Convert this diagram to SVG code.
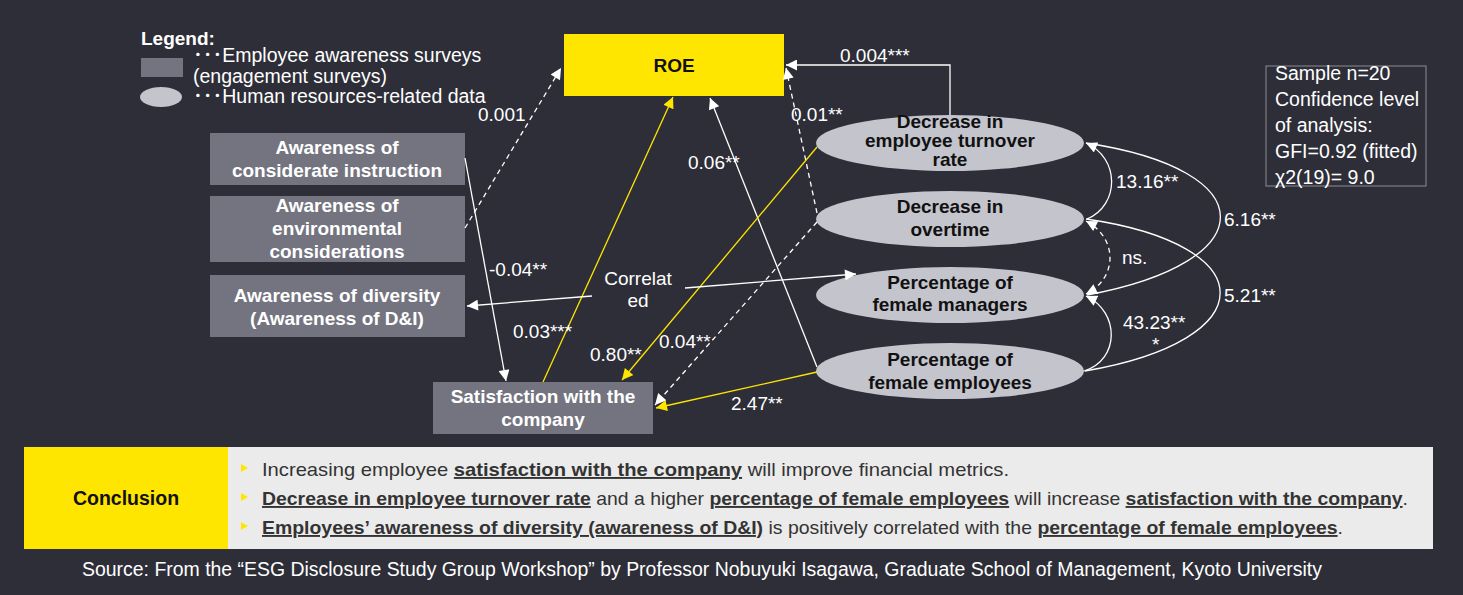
<svg xmlns="http://www.w3.org/2000/svg" width="1463" height="595" viewBox="0 0 1463 595">
<style>
text{font-family:"Liberation Sans",Arial,"Noto Sans CJK JP",sans-serif;}
.bx{fill:#747480;}
.el{fill:#c4c4cd;}
.wb{fill:#ffffff;font-weight:bold;font-size:19px;text-anchor:middle;}
.kb{fill:#111111;font-weight:bold;font-size:19px;text-anchor:middle;}
.lb{fill:#ffffff;font-size:19px;}
.ln{fill:none;stroke:#ffffff;stroke-width:1.3;}
.ds{fill:none;stroke:#ffffff;stroke-width:1.3;stroke-dasharray:5 4;}
.yl{fill:none;stroke:#ffe600;stroke-width:1.3;}
.ct{fill:#333333;font-size:19px;}
.u{font-weight:bold;text-decoration:underline;}
</style>
<defs>
<marker id="aw" viewBox="0 0 10 10" refX="10" refY="5" markerWidth="12" markerHeight="11" markerUnits="userSpaceOnUse" orient="auto-start-reverse"><path d="M0,0 L10,5 L0,10 z" fill="#ffffff"/></marker>
<marker id="ay" viewBox="0 0 10 10" refX="10" refY="5" markerWidth="12" markerHeight="11" markerUnits="userSpaceOnUse" orient="auto-start-reverse"><path d="M0,0 L10,5 L0,10 z" fill="#ffe600"/></marker>
</defs>
<rect x="0" y="0" width="1463" height="595" fill="#2e2e38"/>

<g id="legend">
<text x="141" y="45" style="fill:#fff;font-weight:bold;font-size:19px">Legend:</text>
<rect x="141" y="58" width="42" height="19" class="bx"/>
<ellipse cx="161" cy="97" rx="21" ry="10" class="el"/>
<text x="193" y="62" class="lb" style="font-size:19.5px">･･･Employee awareness surveys</text>
<text x="193" y="83" class="lb" style="font-size:19.5px">(engagement surveys)</text>
<text x="193" y="103" class="lb" style="font-size:19.5px">･･･Human resources-related data</text>
</g>

<g id="roe">
<rect x="564" y="34" width="220" height="62" fill="#ffe600"/>
<text x="674" y="72" class="kb">ROE</text>
</g>

<g id="considerate">
<rect x="210" y="133" width="255" height="52" class="bx"/>
<text x="337" y="154" class="wb">Awareness of</text>
<text x="337" y="177" class="wb">considerate instruction</text>
</g>
<g id="environmental">
<rect x="210" y="196" width="255" height="66" class="bx"/>
<text x="337" y="212" class="wb">Awareness of</text>
<text x="337" y="235" class="wb">environmental</text>
<text x="337" y="258" class="wb">considerations</text>
</g>
<g id="diversity">
<rect x="210" y="275" width="255" height="62" class="bx"/>
<text x="337" y="302" class="wb">Awareness of diversity</text>
<text x="337" y="325" class="wb">(Awareness of D&amp;I)</text>
</g>
<g id="satisfaction">
<rect x="433" y="382" width="220" height="52" class="bx"/>
<text x="543" y="403" class="wb">Satisfaction with the</text>
<text x="543" y="426" class="wb">company</text>
</g>

<g id="turnover">
<ellipse cx="950" cy="143" rx="134" ry="28" class="el"/>
<text x="950" y="128" class="kb">Decrease in</text>
<text x="950" y="147" class="kb">employee turnover</text>
<text x="950" y="166" class="kb">rate</text>
</g>
<g id="overtime">
<ellipse cx="950" cy="219" rx="134" ry="28" class="el"/>
<text x="950" y="213" class="kb">Decrease in</text>
<text x="950" y="236" class="kb">overtime</text>
</g>
<g id="managers">
<ellipse cx="950" cy="295" rx="134" ry="28" class="el"/>
<text x="950" y="289" class="kb">Percentage of</text>
<text x="950" y="311" class="kb">female managers</text>
</g>
<g id="employees">
<ellipse cx="950" cy="371" rx="134" ry="28" class="el"/>
<text x="950" y="366" class="kb">Percentage of</text>
<text x="950" y="389" class="kb">female employees</text>
</g>

<g id="stats">
<rect x="1266" y="66" width="160" height="120" fill="none" stroke="#8c8c94" stroke-width="1"/>
<text x="1275" y="80" class="lb" style="font-size:19.5px">Sample n=20</text>
<text x="1275" y="106" class="lb" style="font-size:19.5px">Confidence level</text>
<text x="1275" y="132" class="lb" style="font-size:19.5px">of analysis:</text>
<text x="1275" y="158" class="lb" style="font-size:19.5px">GFI=0.92 (fitted)</text>
<text x="1275" y="184" class="lb" style="font-size:19.5px">χ2(19)= 9.0</text>
</g>

<g id="connectors">
<path d="M950,115 V65 H786" class="ln" marker-end="url(#aw)"/>
<path d="M817,213 L786,68" class="ds" marker-end="url(#aw)"/>
<path d="M817,367 L710,98" class="ln" marker-end="url(#aw)"/>
<path d="M465,228 L561,68" class="ds" marker-end="url(#aw)"/>
<path d="M465,158 L506,381" class="ln" marker-end="url(#aw)"/>
<path d="M543,382 L673,97" class="yl" marker-end="url(#ay)"/>
<path d="M817,147 L622,380" class="yl" marker-end="url(#ay)"/>
<path d="M817,222 L655,405" class="ds" marker-end="url(#aw)"/>
<path d="M817,372 L656,408" class="yl" marker-end="url(#ay)"/>
<path d="M592,296 L467,306" class="ln" marker-end="url(#aw)"/>
<path d="M685,288 L856,274" class="ln" marker-end="url(#aw)"/>
<path d="M1087,219 C1120,205 1120,158 1086,143" class="ln" marker-end="url(#aw)"/>
<path d="M1087,295 C1265,262 1265,170 1086,143" class="ln"/>
<path d="M1085,371 C1265,340 1265,245 1086,219" class="ln"/>
<path d="M1086,221 C1118,238 1118,278 1086,294" class="ds" marker-start="url(#aw)" marker-end="url(#aw)"/>
<path d="M1084,371 C1120,360 1120,312 1086,296" class="ln" marker-end="url(#aw)"/>
<text x="840" y="62" class="lb">0.004***</text>
<text x="791" y="121" class="lb">0.01**</text>
<text x="688" y="169" class="lb">0.06**</text>
<text x="478" y="121" class="lb">0.001</text>
<text x="489" y="276" class="lb">-0.04**</text>
<text x="513" y="338" class="lb">0.03***</text>
<text x="590" y="361" class="lb">0.80**</text>
<text x="659" y="348" class="lb">0.04**</text>
<text x="731" y="410" class="lb">2.47**</text>
<text x="638" y="285" class="lb" text-anchor="middle">Correlat</text>
<text x="638" y="307" class="lb" text-anchor="middle">ed</text>
<text x="1116" y="188" class="lb">13.16**</text>
<text x="1224" y="226" class="lb">6.16**</text>
<text x="1122" y="264" class="lb">ns.</text>
<text x="1224" y="302" class="lb">5.21**</text>
<text x="1123" y="329" class="lb">43.23**</text>
<text x="1152" y="351" class="lb">*</text>
</g>

<g id="conclusion">
<rect x="24" y="447" width="204" height="102" fill="#ffe600"/>
<rect x="228" y="447" width="1205" height="102" fill="#ebebeb"/>
<text x="126" y="505" style="fill:#111;font-weight:bold;font-size:19.5px;text-anchor:middle">Conclusion</text>
<polygon points="241,464 248,468 241,472" fill="#ffe600"/>
<polygon points="241,493 248,497 241,501" fill="#ffe600"/>
<polygon points="241,522 248,526 241,530" fill="#ffe600"/>
<text x="262" y="476" class="ct" textLength="747" lengthAdjust="spacingAndGlyphs">Increasing employee <tspan class="u">satisfaction with the company</tspan> will improve financial metrics.</text>
<text x="262" y="505" class="ct" textLength="1146" lengthAdjust="spacingAndGlyphs"><tspan class="u">Decrease in employee turnover rate</tspan> and a higher <tspan class="u">percentage of female employees</tspan> will increase <tspan class="u">satisfaction with the company</tspan>.</text>
<text x="262" y="534" class="ct" textLength="1081" lengthAdjust="spacingAndGlyphs"><tspan class="u">Employees’ awareness of diversity (awareness of D&amp;I)</tspan> is positively correlated with the <tspan class="u">percentage of female employees</tspan>.</text>
</g>

<g id="source">
<text x="82" y="576" class="lb" style="font-size:20px" textLength="1240" lengthAdjust="spacingAndGlyphs">Source: From the “ESG Disclosure Study Group Workshop” by Professor Nobuyuki Isagawa, Graduate School of Management, Kyoto University</text>
</g>
</svg>
